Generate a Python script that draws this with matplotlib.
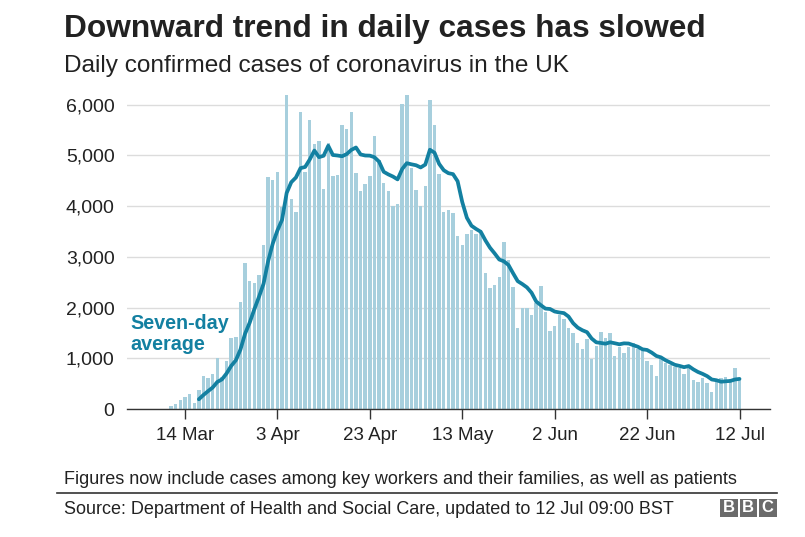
import matplotlib
matplotlib.use("Agg")
import matplotlib.pyplot as plt
import matplotlib.patches as mpatches
import pandas as pd

plt.rcParams['font.family'] = ['Liberation Sans', 'DejaVu Sans']

# Daily confirmed cases, 11 Mar to 12 Jul
start_date = "2020-03-11"
daily_cases = [
    53, 92, 178, 237, 289, 125, 368, 651, 618, 684,
    1000, 640, 947, 1408, 1421, 2099, 2868, 2526, 2480, 2650,
    3230, 4565, 4512, 4663, 3990, 6187, 4138, 3875, 5859, 4676,
    5695, 5222, 5276, 4331, 5250, 4587, 4606, 5591, 5525, 5853,
    4659, 4292, 4442, 4587, 5374, 4913, 4455, 4299, 3996, 4049,
    6017, 6181, 4757, 4324, 3996, 4390, 6096, 5604, 4640, 3885,
    3918, 3865, 3407, 3228, 3439, 3537, 3439, 3534, 2684, 2390,
    2447, 2592, 3287, 2934, 2395, 1592, 1987, 1987, 1855, 2079,
    2428, 1921, 1539, 1638, 1855, 1770, 1605, 1507, 1309, 1178,
    1375, 980, 1243, 1520, 1400, 1507, 1046, 1230, 1112, 1217,
    1300, 1178, 1151, 954, 868, 651, 1020, 901, 868, 836,
    803, 691, 803, 572, 539, 605, 520, 342, 586, 605,
    625, 586, 803, 605,
]
tick_dates = ["2020-03-14", "2020-04-03", "2020-04-23", "2020-05-13",
              "2020-06-02", "2020-06-22", "2020-07-12"]
tick_labels = ["14 Mar", "3 Apr", "23 Apr", "13 May", "2 Jun", "22 Jun", "12 Jul"]
y_ticks = [0, 1000, 2000, 3000, 4000, 5000, 6000]
y_labels = ["0", "1,000", "2,000", "3,000", "4,000", "5,000", "6,000"]

dates = pd.date_range(start_date, periods=len(daily_cases), freq="D")
series = pd.Series(daily_cases, index=dates)
seven_day = series.rolling(7).mean()

W, H = 805, 537
fig = plt.figure(figsize=(W / 100, H / 100), dpi=100)
fig.patch.set_facecolor("white")

def fx(px):
    return px / W

def fy(py):
    return 1 - py / H

ax_left, ax_right, ax_bottom, ax_top = 127, 770, 409, 89.3
ax = fig.add_axes([fx(ax_left), fy(ax_bottom), fx(ax_right - ax_left), (ax_bottom - ax_top) / H])

BAR = "#a7cfdd"
LINE = "#1380A1"

ax.bar(dates, daily_cases, width=0.74, color=BAR, zorder=2, align="center")
ax.plot(seven_day.index, seven_day.values, color=LINE, lw=2.7, zorder=3,
        solid_capstyle="round", solid_joinstyle="round")

ax.set_ylim(0, 6300)
x0 = pd.Timestamp("2020-03-14") - pd.Timedelta(days=12.55)
x1 = pd.Timestamp("2020-07-12") + pd.Timedelta(days=6.6)
ax.set_xlim(x0, x1)

ax.set_yticks(y_ticks)
ax.set_yticklabels(y_labels)
ax.set_xticks(pd.to_datetime(tick_dates))
ax.set_xticklabels(tick_labels)

for s in ["top", "right", "left"]:
    ax.spines[s].set_visible(False)
ax.spines["bottom"].set_color("#333333")
ax.spines["bottom"].set_linewidth(1.0)
ax.spines["bottom"].set_zorder(4)

ax.yaxis.grid(True, color="#dcdcdc", lw=1.0, zorder=0)
ax.set_axisbelow(True)
ax.tick_params(axis="y", length=0, pad=9, labelsize=14, labelcolor="#222222")
ax.tick_params(axis="x", length=7, width=1.0, color="#333333", pad=6,
               labelsize=13.5, labelcolor="#222222")

ax.text(pd.Timestamp("2020-03-14") - pd.Timedelta(days=11.9), 1480,
        "Seven-day\naverage", color=LINE, fontsize=14.2, fontweight="bold",
        ha="left", va="center", linespacing=1.15, zorder=5)

# Titles
fig.text(fx(64), fy(37), "Downward trend in daily cases has slowed",
         fontsize=22.8, fontweight="bold", color="#222222", va="baseline", ha="left")
fig.text(fx(64), fy(72), "Daily confirmed cases of coronavirus in the UK",
         fontsize=17.6, color="#222222", va="baseline", ha="left")

# Footer
fig.text(fx(64), fy(484), "Figures now include cases among key workers and their families, as well as patients",
         fontsize=13.0, color="#222222", va="baseline", ha="left")
fig.add_artist(plt.Line2D([fx(57), fx(777)], [fy(493), fy(493)], color="#333333", lw=1.2))
fig.text(fx(64), fy(514), "Source: Department of Health and Social Care, updated to 12 Jul 09:00 BST",
         fontsize=13.0, color="#222222", va="baseline", ha="left")

# BBC blocks
bx = 720
for letter in "BBC":
    fig.add_artist(mpatches.Rectangle((fx(bx), fy(517)), fx(17.5), 18 / H,
                                      transform=fig.transFigure, color="#6b6b6b", lw=0))
    fig.text(fx(bx + 8.75), fy(508), letter, fontsize=12, fontweight="bold",
             color="white", ha="center", va="center")
    bx += 19.5

fig.savefig("out.png", dpi=100, facecolor="white")
